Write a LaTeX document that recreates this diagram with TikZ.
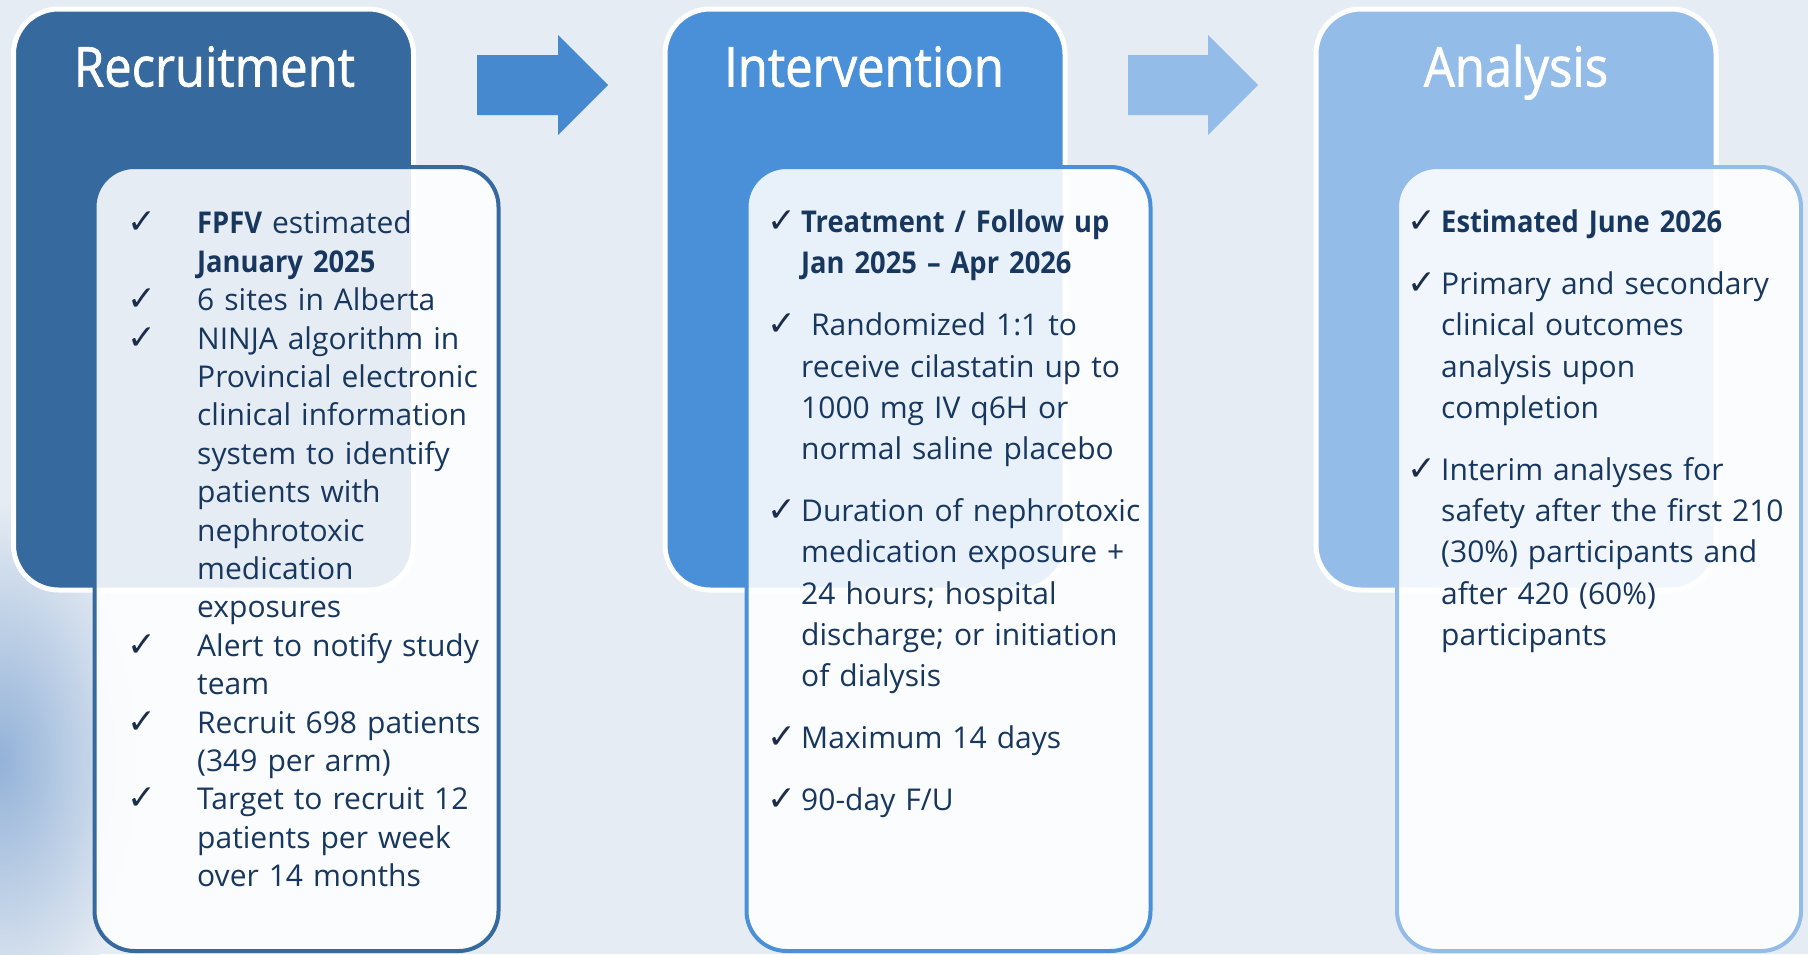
\documentclass[tikz,border=0pt]{standalone}
\usepackage{fontspec}
\setmainfont{Open Sans}[BoldFeatures={FakeStretch=0.91}]
\newfontfamily\headfont{Open Sans}[FakeStretch=0.89,FakeBold=1.2]
\newfontfamily\symfont{DejaVu Sans}
\usepackage{tikz}

\definecolor{pagebg}{HTML}{E6ECF3}
\definecolor{photoblue}{HTML}{93B2D8}
\definecolor{recblue}{HTML}{36699D}
\definecolor{intblue}{HTML}{4A90D9}
\definecolor{anablue}{HTML}{93BDE8}
\definecolor{arrowone}{HTML}{4689CF}
\definecolor{arrowtwo}{HTML}{93BDE8}
\definecolor{textnavy}{HTML}{17375E}
\definecolor{chknavy}{HTML}{1C2D4A}

\newcommand{\brk}{\hfil\break}
\newcommand{\chkitem}[2]{\par\noindent\hangindent=#1\hangafter=1\makebox[#1][l]{\color{chknavy}\symfont\scalebox{1.15}{✓}}#2}
\newcommand{\itemgap}{\par\vspace{21pt}}

\begin{document}
\begin{tikzpicture}[
  panel/.style={draw=white,line width=5pt,rounded corners=45pt,minimum width=400pt,minimum height=581pt,inner sep=0pt},
  infobox/.style={fill=white,fill opacity=0.88,line width=4pt,rounded corners=40pt,minimum width=404pt,minimum height=784pt,inner sep=0pt},
  heading/.style={text=white,anchor=base,font=\headfont\fontsize{55}{60}\selectfont},
  itemlist/.style={anchor=north west,text width=420pt,inner sep=0pt,text=textnavy}]
  \useasboundingbox[fill=pagebg] (0pt,0pt) rectangle (1808pt,-954pt);
  % blurred photo behind the left box
  \shade[inner color=photoblue,outer color=pagebg] (0pt,-760pt) ellipse (150pt and 260pt);
  % panels
  \draw (213.5pt, -299.5pt)node[panel,fill=recblue](recpanel){};
  \draw (865.0pt, -299.5pt)node[panel,fill=intblue](intpanel){};
  \draw (1516.0pt, -299.5pt)node[panel,fill=anablue](anapanel){};
  \draw (214.5pt, -86.5pt)node[heading](rechead){Recruitment};
  \draw (864.0pt, -86.5pt)node[heading](inthead){Intervention};
  \draw (1516.0pt, -86.5pt)node[heading](anahead){Analysis};
  % arrows
  \fill[arrowone] (477pt,-55pt) -- (558pt,-55pt) -- (558pt,-35pt) -- (608pt,-85pt)
    -- (558pt,-135pt) -- (558pt,-115pt) -- (477pt,-115pt) -- cycle;
  \fill[arrowtwo] (1128pt,-55pt) -- (1208pt,-55pt) -- (1208pt,-35pt) -- (1258pt,-85pt)
    -- (1208pt,-135pt) -- (1208pt,-115pt) -- (1128pt,-115pt) -- cycle;
  % boxes
  \draw (296.5pt, -559.0pt)node[infobox,draw=recblue](recbox){};
  \draw (948.5pt, -559.0pt)node[infobox,draw=intblue](intbox){};
  \draw (1599.0pt, -559.0pt)node[infobox,draw=anablue](anabox){};
  % lists
  \draw (127.0pt, -195.2pt)node[itemlist,font=\fontsize{30}{38.4}\selectfont](reclist){%
    \chkitem{70pt}{\textbf{FPFV} estimated\brk\textbf{January 2025}}
    \chkitem{70pt}{6 sites in Alberta}
    \chkitem{70pt}{NINJA algorithm in\brk Provincial electronic\brk clinical information\brk system to identify\brk patients with\brk nephrotoxic\brk medication\brk exposures}
    \chkitem{70pt}{Alert to notify study\brk team}
    \chkitem{70pt}{Recruit 698 patients\brk (349 per arm)}
    \chkitem{70pt}{Target to recruit 12\brk patients per week\brk over 14 months}\par};
  \draw (767.0pt, -191.1pt)node[itemlist,font=\fontsize{30}{41.2}\selectfont](intlist){%
    \chkitem{34pt}{\textbf{Treatment / Follow up}\brk\textbf{Jan 2025 – Apr 2026}}\itemgap
    \chkitem{34pt}{\ Randomized 1:1 to\brk receive cilastatin up to\brk 1000 mg IV q6H or\brk normal saline placebo}\itemgap
    \chkitem{34pt}{Duration of nephrotoxic\brk medication exposure +\brk 24 hours; hospital\brk discharge; or initiation\brk of dialysis}\itemgap
    \chkitem{34pt}{Maximum 14 days}\itemgap
    \chkitem{34pt}{90-day F/U}\par};
  \draw (1407.0pt, -191.1pt)node[itemlist,font=\fontsize{30}{41.2}\selectfont](analist){%
    \chkitem{34pt}{\textbf{Estimated June 2026}}\itemgap
    \chkitem{34pt}{Primary and secondary\brk clinical outcomes\brk analysis upon\brk completion}\itemgap
    \chkitem{34pt}{Interim analyses for\brk safety after the first 210\brk (30\%) participants and\brk after 420 (60\%)\brk participants}\par};
\end{tikzpicture}
\end{document}
